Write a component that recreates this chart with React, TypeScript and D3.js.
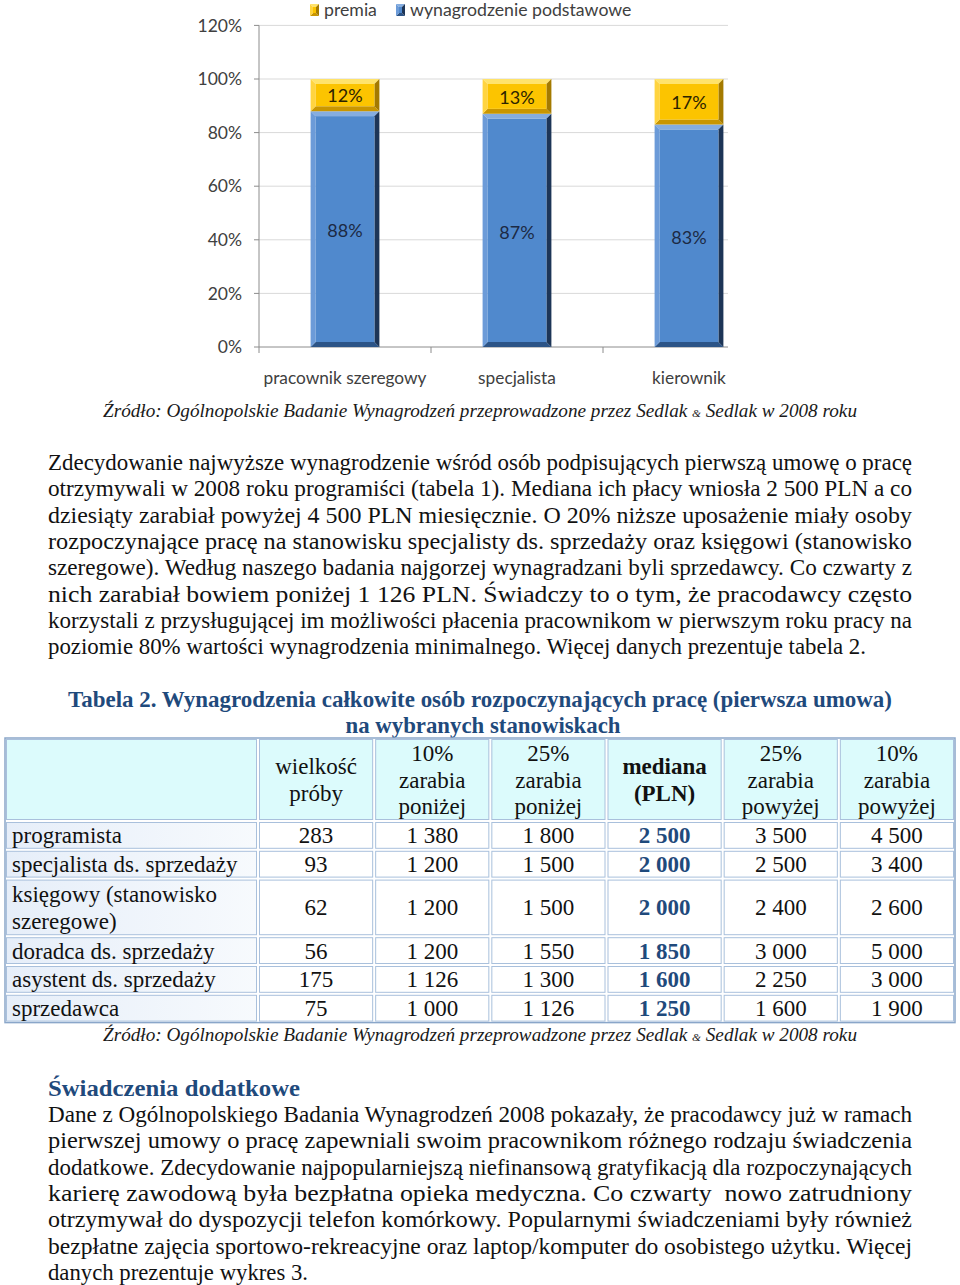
import React from "react";
import * as d3 from "d3";

// ---- chart data ----
const categories = ["pracownik szeregowy", "specjalista", "kierownik"];
const basePay = [88, 87, 83];
const bonus = [12, 13, 17];
const yTicks = [0, 20, 40, 60, 80, 100, 120];
const legendLabels = ["premia", "wynagrodzenie podstawowe"];

// ---- table data ----
const positions = [
  "programista",
  "specjalista ds. sprzedaży",
  "księgowy (stanowisko\nszeregowe)",
  "doradca ds. sprzedaży",
  "asystent ds. sprzedaży",
  "sprzedawca",
];
const sampleSize = [283, 93, 62, 56, 175, 75];
const p10below = [1380, 1200, 1200, 1200, 1126, 1000];
const p25below = [1800, 1500, 1500, 1550, 1300, 1126];
const medianPay = [2500, 2000, 2000, 1850, 1600, 1250];
const p25above = [3500, 2500, 2400, 3000, 2250, 1600];
const p10above = [4500, 3400, 2600, 5000, 3000, 1900];
const columnHeaders = [
  ["wielkość", "próby"],
  ["10%", "zarabia", "poniżej"],
  ["25%", "zarabia", "poniżej"],
  ["mediana", "(PLN)"],
  ["25%", "zarabia", "powyżej"],
  ["10%", "zarabia", "powyżej"],
];

// ---- texts ----
const source = ["Źródło: Ogólnopolskie Badanie Wynagrodzeń przeprowadzone przez Sedlak ", "&", " Sedlak w 2008 roku"];
const tableTitle = [
  "Tabela 2. Wynagrodzenia całkowite osób rozpoczynających pracę (pierwsza umowa)",
  "na wybranych stanowiskach",
];
const para1 = [
  "Zdecydowanie najwyższe wynagrodzenie wśród osób podpisujących pierwszą umowę o pracę",
  "otrzymywali w 2008 roku programiści (tabela 1). Mediana ich płacy wniosła 2 500 PLN a co",
  "dziesiąty zarabiał powyżej 4 500 PLN miesięcznie. O 20% niższe uposażenie miały osoby",
  "rozpoczynające pracę na stanowisku specjalisty ds. sprzedaży oraz księgowi (stanowisko",
  "szeregowe). Według naszego badania najgorzej wynagradzani byli sprzedawcy. Co czwarty z",
  "nich zarabiał bowiem poniżej 1 126 PLN. Świadczy to o tym, że pracodawcy często",
  "korzystali z przysługującej im możliwości płacenia pracownikom w pierwszym roku pracy na",
  "poziomie 80% wartości wynagrodzenia minimalnego. Więcej danych prezentuje tabela 2.",
];
const heading2 = "Świadczenia dodatkowe";
const para2 = [
  "Dane z Ogólnopolskiego Badania Wynagrodzeń 2008 pokazały, że pracodawcy już w ramach",
  "pierwszej umowy o pracę zapewniali swoim pracownikom różnego rodzaju świadczenia",
  "dodatkowe. Zdecydowanie najpopularniejszą niefinansową gratyfikacją dla rozpoczynających",
  "karierę zawodową była bezpłatna opieka medyczna. Co czwarty  nowo zatrudniony",
  "otrzymywał do dyspozycji telefon komórkowy. Popularnymi świadczeniami były również",
  "bezpłatne zajęcia sportowo-rekreacyjne oraz laptop/komputer do osobistego użytku. Więcej",
  "danych prezentuje wykres 3.",
];

const W = 960;
const H = 1285;
const serif = "'Liberation Serif', 'Times New Roman', serif";
const sans = "Lato, 'Open Sans', sans-serif";
const navy = "#1f4a7c";

const fmt = d3.formatLocale({ decimal: ",", thousands: " ", grouping: [3], currency: ["", " zł"] }).format(",d");

const BLUE = { face: "#5089cd", top: "#85ade0", left: "#6c9bd8", right: "#1d3557", bottom: "#2c5487" };
const GOLD = { face: "#fcc400", top: "#ffe36b", left: "#ffd440", right: "#a47a00", bottom: "#c99600" };

function Bevel({ x, y, w, h, b, c }: { x: number; y: number; w: number; h: number; b: number; c: any }) {
  const pts = (a: number[][]) => a.map((p) => p.join(",")).join(" ");
  const bb = Math.min(b, h / 2, w / 2);
  return (
    <g>
      <polygon points={pts([[x, y], [x + w, y], [x + w - bb, y + bb], [x + bb, y + bb]])} fill={c.top} />
      <polygon points={pts([[x, y + h], [x + w, y + h], [x + w - bb, y + h - bb], [x + bb, y + h - bb]])} fill={c.bottom} />
      <polygon points={pts([[x, y], [x + bb, y + bb], [x + bb, y + h - bb], [x, y + h]])} fill={c.left} />
      <polygon points={pts([[x + w, y], [x + w - bb, y + bb], [x + w - bb, y + h - bb], [x + w, y + h]])} fill={c.right} />
      <rect x={x + bb} y={y + bb} width={w - 2 * bb} height={h - 2 * bb} fill={c.face} />
    </g>
  );
}

function Chart() {
  const y = d3.scaleLinear().domain([0, 120]).range([347, 25.4]);
  const x = d3.scaleBand().domain(categories).range([259, 775]).paddingInner(0.6).paddingOuter(0.3);
  const gridRight = 728;
  const gap = (x.step() - x.bandwidth()) / 2;
  const bw = x.bandwidth();
  return (
    <g fontFamily={sans}>
      {yTicks.map((t) => (
        <g key={t}>
          <line x1={x.range()[0]} x2={gridRight} y1={y(t)} y2={y(t)} stroke={t === 0 ? "#8c8c8c" : "#d9d9d9"} strokeWidth={1} />
          <line x1={x.range()[0] - 5} x2={x.range()[0]} y1={y(t)} y2={y(t)} stroke="#8c8c8c" />
          <text x={242} y={y(t)} dy="0.35em" textAnchor="end" fontSize={17.5} fill="#404040">
            {t}%
          </text>
        </g>
      ))}
      <line x1={x.range()[0]} x2={x.range()[0]} y1={y(120)} y2={y(0)} stroke="#8c8c8c" />
      {categories.map((c, i) => (
        <g key={c}>
          <line x1={(x(c) as number) - gap} x2={(x(c) as number) - gap} y1={y(0)} y2={y(0) + 6} stroke="#8c8c8c" />
          <Bevel x={x(c) as number} y={y(basePay[i])} w={bw} h={y(0) - y(basePay[i])} b={5} c={BLUE} />
          <Bevel x={x(c) as number} y={y(100)} w={bw} h={y(basePay[i]) - y(100)} b={5} c={GOLD} />
          <text x={(x(c) as number) + bw / 2} y={y(basePay[i] / 2) + 2} dy="0.35em" textAnchor="middle" fontSize={18} fill="#1c2a44">
            {basePay[i]}%
          </text>
          <text x={(x(c) as number) + bw / 2} y={y(basePay[i] + bonus[i] / 2) + 1} dy="0.35em" textAnchor="middle" fontSize={18} fill="#2b2300">
            {bonus[i]}%
          </text>
          <text x={(x(c) as number) + bw / 2} y={378} dy="0.35em" textAnchor="middle" fontSize={17.3} fill="#404040">
            {c}
          </text>
        </g>
      ))}
      {/* legend */}
      <Bevel x={310} y={4} w={9} h={12} b={3} c={GOLD} />
      <text x={324} y={10} dy="0.35em" fontSize={17.7} fill="#404040">{legendLabels[0]}</text>
      <Bevel x={396} y={4} w={9} h={12} b={3} c={BLUE} />
      <text x={410} y={10} dy="0.35em" fontSize={17.7} fill="#404040">{legendLabels[1]}</text>
    </g>
  );
}

function SourceLine({ y }: { y: number }) {
  return (
    <text x={103} y={y} dy="0.35em" fontFamily={serif} fontStyle="italic" fontSize={18.5} fill="#1a1a1a" textLength={754} lengthAdjust="spacingAndGlyphs">
      <tspan>{source[0]}</tspan>
      <tspan fontSize={11}>{source[1]}</tspan>
      <tspan>{source[2]}</tspan>
    </text>
  );
}

function Paragraph({ lines, top, right, lastEnd }: { lines: string[]; top: number; right: number; lastEnd: number }) {
  const lh = 26.3;
  return (
    <g fontFamily={serif} fontSize={23} fill="#111">
      {lines.map((l, i) => (
        <text key={i} x={48} y={top + i * lh} dy="0.35em" textLength={(i === lines.length - 1 ? lastEnd : right) - 48} lengthAdjust="spacingAndGlyphs" xmlSpace="preserve">
          {l}
        </text>
      ))}
    </g>
  );
}

function Table() {
  const left = 5;
  const right = 955;
  const firstColRight = 258;
  const col = d3.scaleBand().domain(d3.range(6).map(String)).range([firstColRight, right]);
  const headTop = 738;
  const headH = 83;
  const lineH = 28.8;
  const rowLines = positions.map((p) => p.split("\n").length);
  const rowTops: number[] = [];
  let acc = headTop + headH;
  rowLines.forEach((n) => {
    rowTops.push(acc);
    acc += n * lineH;
  });
  const bottom = acc;
  const columns = [sampleSize, p10below, p25below, medianPay, p25above, p10above];
  const cellStroke = "#a9c0dc";
  const cell = (x0: number, y0: number, w: number, h: number, fill: string, key: string) => (
    <rect key={key} x={x0 + 1.5} y={y0 + 1.5} width={w - 3} height={h - 3} fill={fill} stroke={cellStroke} strokeWidth={1} />
  );
  return (
    <g fontFamily={serif} fontSize={23}>
      <defs>
        <linearGradient id="firstCol" x1="0" x2="1" y1="0" y2="0">
          <stop offset="0" stopColor="#e6eef9" />
          <stop offset="1" stopColor="#f7fafd" />
        </linearGradient>
      </defs>
      <rect x={left} y={headTop} width={right - left} height={bottom - headTop} fill="#fff" stroke="#8aa6c9" strokeWidth={1.5} />
      {cell(left, headTop, firstColRight - left, headH, "#dcfbfc", "h0")}
      {columnHeaders.map((hd, j) => {
        const cx = (col(String(j)) as number) + col.bandwidth() / 2;
        const mid = headTop + headH / 2;
        const bold = j === 3;
        return (
          <g key={"h" + j}>
            {cell(col(String(j)) as number, headTop, col.bandwidth(), headH, "#dcfbfc", "hc" + j)}
            {hd.map((t, k) => (
              <text key={k} x={cx} y={mid + (k - (hd.length - 1) / 2) * 26.5} dy="0.35em" textAnchor="middle" fill="#111" fontWeight={bold ? "bold" : "normal"}>
                {t}
              </text>
            ))}
          </g>
        );
      })}
      {positions.map((p, i) => {
        const h = rowLines[i] * lineH;
        const mid = rowTops[i] + h / 2;
        const parts = p.split("\n");
        return (
          <g key={p}>
            {cell(left, rowTops[i], firstColRight - left, h, "url(#firstCol)", "r" + i)}
            {parts.map((t, k) => (
              <text key={k} x={12} y={mid + (k - (parts.length - 1) / 2) * 26.5} dy="0.35em" fill="#111">
                {t}
              </text>
            ))}
            {columns.map((vals, j) => (
              <g key={j}>
                {cell(col(String(j)) as number, rowTops[i], col.bandwidth(), h, "#fff", "c" + j)}
                <text
                  x={(col(String(j)) as number) + col.bandwidth() / 2}
                  y={mid}
                  dy="0.35em"
                  textAnchor="middle"
                  fill={j === 3 ? navy : "#111"}
                  fontWeight={j === 3 ? "bold" : "normal"}
                >
                  {fmt(vals[i])}
                </text>
              </g>
            ))}
          </g>
        );
      })}
    </g>
  );
}

export default function App() {
  return (
    <div style={{ position: "absolute", left: 0, top: 0, width: W, height: H, background: "#fff" }}>
      <svg width={W} height={H} viewBox={`0 0 ${W} ${H}`} style={{ display: "block" }}>
        <rect width={W} height={H} fill="#fff" />
        <Chart />
        <SourceLine y={411} />
        <Paragraph lines={para1} top={462} right={912} lastEnd={866} />
        <g fontFamily={serif} fontWeight="bold" fontSize={23.5} fill={navy}>
          <text x={480} y={699} dy="0.35em" textAnchor="middle" textLength={824} lengthAdjust="spacingAndGlyphs">
            {tableTitle[0]}
          </text>
          <text x={483} y={725} dy="0.35em" textAnchor="middle" textLength={275} lengthAdjust="spacingAndGlyphs">
            {tableTitle[1]}
          </text>
        </g>
        <Table />
        <SourceLine y={1035} />
        <text x={48} y={1088} dy="0.35em" fontFamily={serif} fontWeight="bold" fontSize={24} fill={navy} textLength={252} lengthAdjust="spacingAndGlyphs">
          {heading2}
        </text>
        <Paragraph lines={para2} top={1114} right={912} lastEnd={308} />
      </svg>
    </div>
  );
}
